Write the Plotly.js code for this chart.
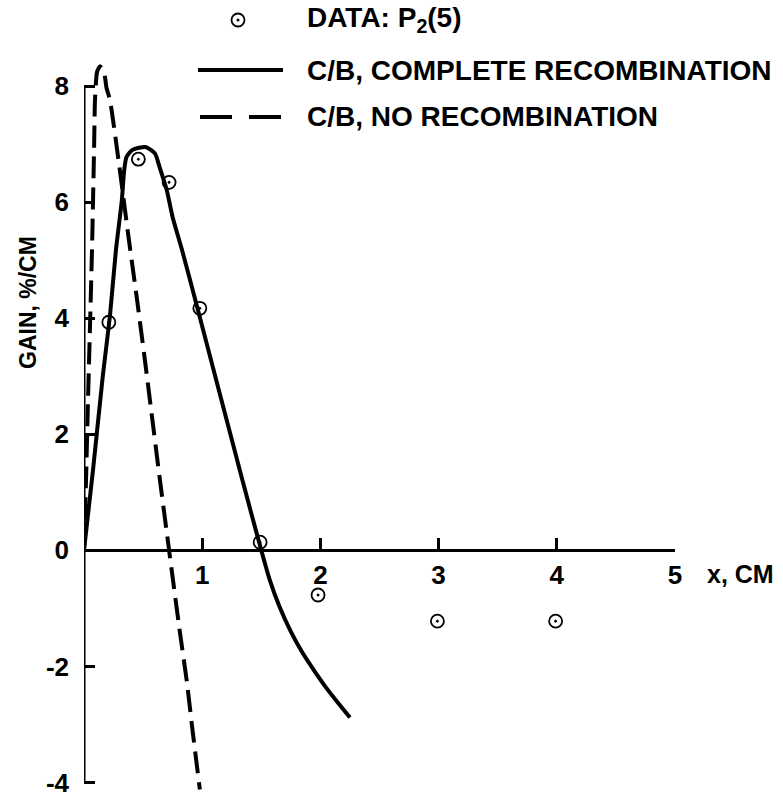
<!DOCTYPE html>
<html>
<head>
<meta charset="utf-8">
<script src="https://cdn.plot.ly/plotly-3.0.1.min.js"></script>
<style>html,body{margin:0;padding:0;background:#fff;}#chart{width:783px;height:801px;}</style>
</head>
<body>
<div id="chart"></div>
<script>
// Measured data P2(5)
const dataX = [0.21, 0.46, 0.72, 0.98, 1.49, 1.98, 2.99, 3.99];
const dataY = [3.93, 6.74, 6.34, 4.17, 0.14, -0.77, -1.22, -1.22];

// C/B, complete recombination
const completeX = [0, 0.076, 0.16, 0.22, 0.27, 0.32, 0.34, 0.36, 0.41, 0.52, 0.60, 0.64, 0.70, 0.75, 0.83, 0.96, 1.34, 1.50, 1.57, 1.65, 1.75, 1.85, 1.95, 2.05, 2.15, 2.25];
const completeY = [0, 1.38, 3.02, 4.05, 5.17, 6.03, 6.55, 6.78, 6.90, 6.95, 6.84, 6.60, 6.21, 5.74, 5.17, 4.17, 1.21, 0.0, -0.50, -0.95, -1.40, -1.77, -2.08, -2.37, -2.63, -2.88];

// C/B, no recombination
const noRecX = [0, 0.017, 0.034, 0.05, 0.068, 0.085, 0.093, 0.11, 0.135, 0.17, 0.19, 0.22, 0.30, 0.37, 0.45, 0.52, 0.64, 0.72, 0.81, 0.87, 0.92, 0.98];
const noRecY = [0, 1.2, 2.6, 3.8, 5.2, 6.9, 7.76, 8.24, 8.34, 8.24, 7.97, 7.76, 6.6, 5.5, 4.3, 3.2, 1.25, 0.0, -1.39, -2.26, -3.13, -4.12];

const yTicks = [-4, -2, 0, 2, 4, 6, 8];
const yTickText = ['-4', '-2', '0', '2', '4', '6', '8'];
const xTicks = [1, 2, 3, 4, 5];
const xTickText = ['1', '2', '3', '4', '5'];

const legendLabels = ['DATA: P<sub>2</sub>(5)', 'C/B, COMPLETE RECOMBINATION', 'C/B, NO RECOMBINATION'];

const FONT = 'Liberation Sans, Arial, sans-serif';
const yMin = -4.25, yMax = 8.5;
const yZeroFrac = (0 - yMin) / (yMax - yMin);

const traces = [
  {x: completeX, y: completeY, mode: 'lines', type: 'scatter', showlegend: false,
   line: {color: '#000', width: 4, shape: 'spline', smoothing: 0.6}},
  {x: noRecX, y: noRecY, mode: 'lines', type: 'scatter', showlegend: false,
   line: {color: '#000', width: 4, dash: '22px,9px', shape: 'spline', smoothing: 0.5}},
  {x: dataX, y: dataY, mode: 'markers', type: 'scatter', showlegend: false, cliponaxis: false,
   marker: {symbol: 'circle-open-dot', size: 13, color: '#000', line: {color: '#000', width: 1.8}}}
];

// legend geometry in paper coords (plot area: x 84..675 px, y 57..797 px)
const px = v => (v - 84) / 591;
const py = v => (797 - v) / 740;

const layout = {
  width: 783, height: 801,
  margin: {l: 84, r: 108, t: 57, b: 4},
  paper_bgcolor: '#fff', plot_bgcolor: '#fff',
  font: {family: FONT, color: '#000'},
  xaxis: {
    range: [0, 5], anchor: 'free', position: yZeroFrac,
    showline: true, linecolor: '#000', linewidth: 3,
    ticks: 'inside', ticklen: 11, tickwidth: 3, tickcolor: '#000',
    tickvals: xTicks, ticktext: xTickText,
    tickfont: {family: FONT, size: 26, color: '#000', weight: 'bold'},
    showgrid: false, zeroline: false, fixedrange: true
  },
  yaxis: {
    range: [yMin, yMax],
    showline: false,
    ticks: 'inside', ticklen: 11, tickwidth: 3, tickcolor: '#000',
    tickvals: yTicks, ticktext: yTickText, ticklabelstandoff: 14,
    tickfont: {family: FONT, size: 26, color: '#000', weight: 'bold'},
    showgrid: false, zeroline: false, fixedrange: true
  },
  shapes: [
    {type: 'line', xref: 'x', yref: 'y', x0: 0, x1: 0, y0: -4, y1: 8, line: {color: '#000', width: 3}},
    // legend symbols
    {type: 'circle', xref: 'paper', yref: 'paper', xsizemode: 'pixel', ysizemode: 'pixel',
     xanchor: px(238), yanchor: py(20), x0: -6.5, x1: 6.5, y0: -6.5, y1: 6.5,
     line: {color: '#000', width: 1.8}},
    {type: 'circle', xref: 'paper', yref: 'paper', xsizemode: 'pixel', ysizemode: 'pixel',
     xanchor: px(238), yanchor: py(20), x0: -1.5, x1: 1.5, y0: -1.5, y1: 1.5,
     fillcolor: '#000', line: {color: '#000', width: 0}},
    {type: 'line', xref: 'paper', yref: 'paper', x0: px(198), x1: px(283), y0: py(70), y1: py(70),
     line: {color: '#000', width: 4}},
    {type: 'line', xref: 'paper', yref: 'paper', x0: px(200), x1: px(285), y0: py(117), y1: py(117),
     line: {color: '#000', width: 4, dash: '32px,17px'}}
  ],
  annotations: [
    {xref: 'paper', yref: 'paper', x: px(305), y: py(20), xanchor: 'left', yanchor: 'middle',
     text: legendLabels[0], showarrow: false, font: {family: FONT, size: 28, weight: 'bold'}},
    {xref: 'paper', yref: 'paper', x: px(305), y: py(70), xanchor: 'left', yanchor: 'middle',
     text: legendLabels[1], showarrow: false, font: {family: FONT, size: 28, weight: 'bold'}},
    {xref: 'paper', yref: 'paper', x: px(305), y: py(117), xanchor: 'left', yanchor: 'middle',
     text: legendLabels[2], showarrow: false, font: {family: FONT, size: 28, weight: 'bold'}},
    {xref: 'paper', yref: 'paper', x: px(705), y: py(574), xanchor: 'left', yanchor: 'middle',
     text: 'x, CM', showarrow: false, font: {family: FONT, size: 25, weight: 'bold'}},
    {xref: 'paper', yref: 'paper', x: px(28), y: py(303), xanchor: 'center', yanchor: 'middle',
     text: 'GAIN, %/CM', textangle: -90, showarrow: false, font: {family: FONT, size: 23, weight: 'bold'}}
  ]
};

Plotly.newPlot('chart', traces, layout, {displayModeBar: false, staticPlot: true});
</script>
</body>
</html>
